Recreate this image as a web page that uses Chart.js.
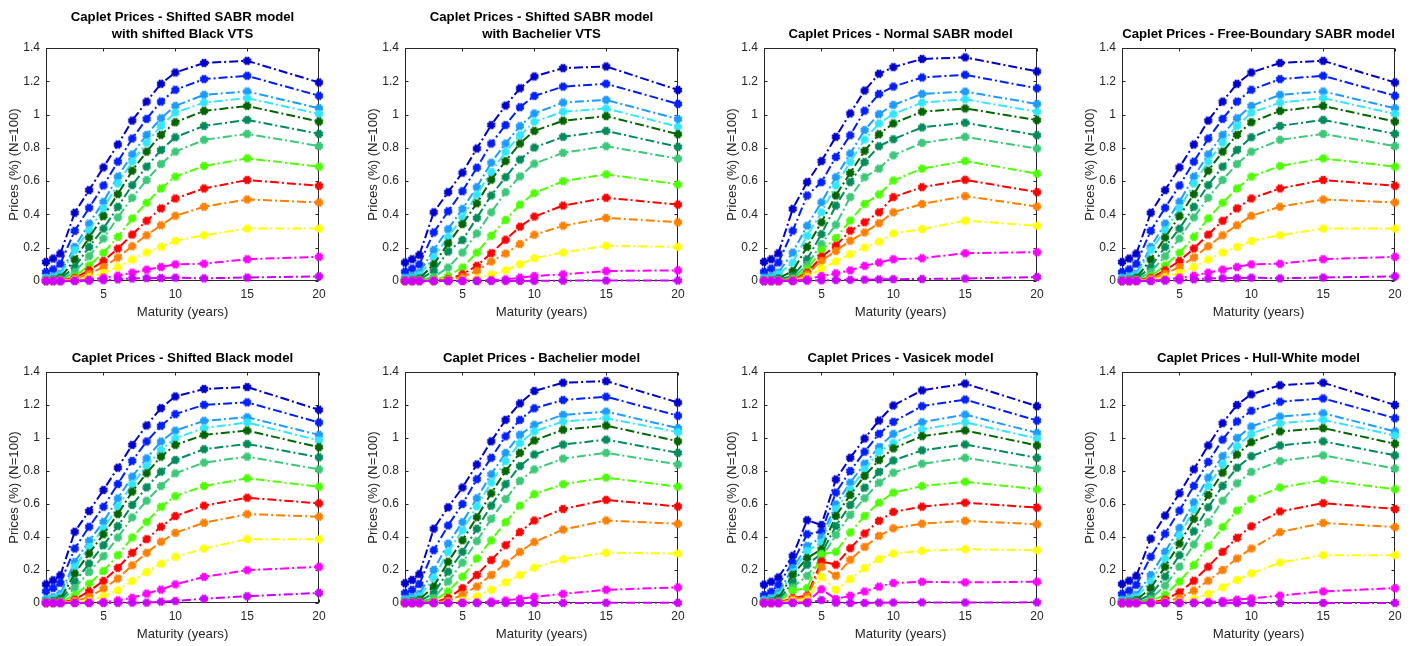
<!DOCTYPE html>
<html>
<head>
<meta charset="utf-8">
<script src="https://cdn.jsdelivr.net/npm/chart.js@4.4.1/dist/chart.umd.min.js"></script>
<style>
  html, body { margin: 0; padding: 0; background: #ffffff; }
  body { width: 1414px; height: 646px; position: relative; overflow: hidden; }
  canvas { position: absolute; }
</style>
</head>
<body>
<script>
// ---------------- DATA ----------------
const maturities = [1, 1.5, 2, 3, 4, 5, 6, 7, 8, 9, 10, 12, 15, 20];
const xTickValues = [5, 10, 15, 20];
const yTickValues = [0, 0.2, 0.4, 0.6, 0.8, 1, 1.2, 1.4];

const panelTitles = [
  ['Caplet Prices - Shifted SABR model', 'with shifted Black VTS'],
  ['Caplet Prices - Shifted SABR model', 'with Bachelier VTS'],
  'Caplet Prices - Normal SABR model',
  'Caplet Prices - Free-Boundary SABR model',
  'Caplet Prices - Shifted Black model',
  'Caplet Prices - Bachelier model',
  'Caplet Prices - Vasicek model',
  'Caplet Prices - Hull-White model'
];

const shiftedSabrBlackVts = [
  [0.114, 0.135, 0.165, 0.410, 0.546, 0.683, 0.820, 0.964, 1.078, 1.185, 1.253, 1.310, 1.323, 1.193],
  [0.054, 0.070, 0.104, 0.301, 0.440, 0.574, 0.717, 0.856, 0.974, 1.078, 1.149, 1.213, 1.233, 1.113],
  [0.020, 0.028, 0.044, 0.205, 0.345, 0.476, 0.627, 0.761, 0.878, 0.978, 1.052, 1.119, 1.139, 1.038],
  [0.015, 0.020, 0.035, 0.185, 0.305, 0.436, 0.586, 0.717, 0.831, 0.932, 1.012, 1.072, 1.099, 1.004],
  [0.005, 0.008, 0.020, 0.129, 0.261, 0.390, 0.522, 0.663, 0.777, 0.878, 0.954, 1.022, 1.052, 0.958],
  [0.003, 0.005, 0.012, 0.084, 0.205, 0.315, 0.446, 0.576, 0.687, 0.787, 0.864, 0.932, 0.968, 0.884],
  [0.002, 0.003, 0.007, 0.054, 0.149, 0.255, 0.382, 0.500, 0.607, 0.703, 0.777, 0.848, 0.884, 0.811],
  [0.001, 0.001, 0.003, 0.028, 0.094, 0.169, 0.265, 0.376, 0.470, 0.556, 0.627, 0.691, 0.737, 0.687],
  [0.000, 0.001, 0.002, 0.018, 0.064, 0.120, 0.195, 0.279, 0.362, 0.436, 0.496, 0.556, 0.607, 0.572],
  [0.000, 0.000, 0.001, 0.012, 0.044, 0.084, 0.141, 0.209, 0.275, 0.335, 0.392, 0.446, 0.490, 0.472],
  [0.000, 0.000, 0.000, 0.006, 0.024, 0.048, 0.084, 0.129, 0.171, 0.205, 0.241, 0.275, 0.315, 0.315],
  [0.000, 0.000, 0.000, 0.002, 0.008, 0.020, 0.032, 0.050, 0.068, 0.084, 0.100, 0.104, 0.131, 0.145],
  [0.000, 0.000, 0.000, 0.000, 0.002, 0.005, 0.010, 0.015, 0.017, 0.018, 0.020, 0.016, 0.021, 0.028]
];

const shiftedSabrBachelierVts = [
  [0.111, 0.131, 0.157, 0.413, 0.534, 0.651, 0.796, 0.937, 1.054, 1.158, 1.229, 1.279, 1.289, 1.148],
  [0.056, 0.075, 0.100, 0.292, 0.419, 0.540, 0.681, 0.826, 0.937, 1.044, 1.112, 1.168, 1.185, 1.064],
  [0.020, 0.030, 0.050, 0.187, 0.312, 0.433, 0.564, 0.711, 0.826, 0.931, 1.007, 1.072, 1.088, 0.973],
  [0.012, 0.018, 0.035, 0.141, 0.266, 0.383, 0.520, 0.655, 0.776, 0.876, 0.957, 1.017, 1.037, 0.927],
  [0.004, 0.007, 0.015, 0.100, 0.226, 0.342, 0.467, 0.608, 0.721, 0.826, 0.902, 0.963, 0.991, 0.882],
  [0.002, 0.003, 0.008, 0.060, 0.177, 0.246, 0.379, 0.514, 0.624, 0.729, 0.802, 0.866, 0.902, 0.806],
  [0.001, 0.002, 0.004, 0.024, 0.081, 0.171, 0.286, 0.413, 0.534, 0.629, 0.705, 0.770, 0.810, 0.735],
  [0.000, 0.001, 0.002, 0.008, 0.030, 0.081, 0.171, 0.272, 0.367, 0.459, 0.528, 0.600, 0.641, 0.580],
  [0.000, 0.000, 0.000, 0.002, 0.010, 0.040, 0.091, 0.167, 0.248, 0.326, 0.387, 0.453, 0.500, 0.459],
  [0.000, 0.000, 0.000, 0.000, 0.004, 0.024, 0.060, 0.117, 0.165, 0.222, 0.278, 0.332, 0.379, 0.353],
  [0.000, 0.000, 0.000, 0.000, 0.001, 0.005, 0.016, 0.040, 0.064, 0.101, 0.137, 0.171, 0.212, 0.205],
  [0.000, 0.000, 0.000, 0.000, 0.000, 0.001, 0.002, 0.005, 0.010, 0.020, 0.030, 0.040, 0.060, 0.064],
  [0.000, 0.000, 0.000, 0.000, 0.000, 0.000, 0.000, 0.000, 0.000, 0.000, 0.001, 0.002, 0.003, 0.003]
];

const normalSabr = [
  [0.115, 0.131, 0.167, 0.433, 0.594, 0.721, 0.866, 1.007, 1.144, 1.245, 1.285, 1.334, 1.344, 1.259],
  [0.056, 0.075, 0.111, 0.302, 0.514, 0.594, 0.745, 0.876, 1.023, 1.124, 1.168, 1.223, 1.239, 1.158],
  [0.020, 0.030, 0.050, 0.171, 0.332, 0.473, 0.624, 0.766, 0.907, 1.003, 1.058, 1.124, 1.138, 1.064],
  [0.012, 0.018, 0.040, 0.111, 0.272, 0.413, 0.574, 0.715, 0.850, 0.947, 1.003, 1.072, 1.092, 1.017],
  [0.004, 0.006, 0.015, 0.060, 0.205, 0.353, 0.514, 0.649, 0.782, 0.882, 0.947, 1.017, 1.037, 0.967],
  [0.002, 0.003, 0.008, 0.030, 0.131, 0.282, 0.453, 0.594, 0.715, 0.810, 0.852, 0.923, 0.951, 0.876],
  [0.001, 0.002, 0.004, 0.016, 0.097, 0.222, 0.338, 0.504, 0.624, 0.675, 0.755, 0.830, 0.866, 0.796],
  [0.000, 0.001, 0.002, 0.010, 0.070, 0.185, 0.258, 0.363, 0.463, 0.520, 0.604, 0.675, 0.721, 0.645],
  [0.000, 0.000, 0.001, 0.006, 0.050, 0.145, 0.212, 0.302, 0.353, 0.413, 0.504, 0.564, 0.608, 0.534],
  [0.000, 0.000, 0.000, 0.004, 0.040, 0.121, 0.181, 0.242, 0.292, 0.347, 0.413, 0.463, 0.510, 0.447],
  [0.000, 0.000, 0.000, 0.002, 0.024, 0.075, 0.117, 0.161, 0.201, 0.236, 0.286, 0.312, 0.363, 0.332],
  [0.000, 0.000, 0.000, 0.001, 0.010, 0.030, 0.046, 0.064, 0.091, 0.111, 0.131, 0.137, 0.167, 0.173],
  [0.000, 0.000, 0.000, 0.000, 0.002, 0.004, 0.006, 0.007, 0.008, 0.010, 0.011, 0.012, 0.015, 0.024]
];

const freeBoundarySabr = [
  [0.114, 0.135, 0.165, 0.410, 0.546, 0.683, 0.820, 0.964, 1.078, 1.185, 1.253, 1.310, 1.323, 1.193],
  [0.054, 0.070, 0.104, 0.301, 0.440, 0.574, 0.717, 0.856, 0.974, 1.078, 1.149, 1.213, 1.233, 1.113],
  [0.020, 0.028, 0.044, 0.205, 0.345, 0.476, 0.627, 0.761, 0.878, 0.978, 1.052, 1.119, 1.139, 1.038],
  [0.015, 0.020, 0.035, 0.185, 0.305, 0.436, 0.586, 0.717, 0.831, 0.932, 1.012, 1.072, 1.099, 1.004],
  [0.005, 0.008, 0.020, 0.129, 0.261, 0.390, 0.522, 0.663, 0.777, 0.878, 0.954, 1.022, 1.052, 0.958],
  [0.003, 0.005, 0.012, 0.084, 0.205, 0.315, 0.446, 0.576, 0.687, 0.787, 0.864, 0.932, 0.968, 0.884],
  [0.002, 0.003, 0.007, 0.054, 0.149, 0.255, 0.382, 0.500, 0.607, 0.703, 0.777, 0.848, 0.884, 0.811],
  [0.001, 0.001, 0.003, 0.028, 0.094, 0.169, 0.265, 0.376, 0.470, 0.556, 0.627, 0.691, 0.737, 0.687],
  [0.000, 0.001, 0.002, 0.018, 0.064, 0.120, 0.195, 0.279, 0.362, 0.436, 0.496, 0.556, 0.607, 0.572],
  [0.000, 0.000, 0.001, 0.012, 0.044, 0.084, 0.141, 0.209, 0.275, 0.335, 0.392, 0.446, 0.490, 0.472],
  [0.000, 0.000, 0.000, 0.006, 0.024, 0.048, 0.084, 0.129, 0.171, 0.205, 0.241, 0.275, 0.315, 0.315],
  [0.000, 0.000, 0.000, 0.002, 0.008, 0.020, 0.032, 0.050, 0.068, 0.084, 0.100, 0.104, 0.131, 0.145],
  [0.000, 0.000, 0.000, 0.000, 0.002, 0.005, 0.010, 0.015, 0.017, 0.018, 0.020, 0.016, 0.021, 0.028]
];

const shiftedBlack = [
  [0.113, 0.138, 0.168, 0.432, 0.557, 0.685, 0.820, 0.958, 1.076, 1.181, 1.252, 1.297, 1.309, 1.171],
  [0.071, 0.091, 0.122, 0.330, 0.462, 0.583, 0.721, 0.861, 0.979, 1.074, 1.145, 1.201, 1.216, 1.094],
  [0.025, 0.035, 0.055, 0.249, 0.377, 0.492, 0.634, 0.766, 0.877, 0.979, 1.045, 1.104, 1.126, 1.019],
  [0.018, 0.025, 0.040, 0.219, 0.340, 0.452, 0.583, 0.721, 0.831, 0.928, 0.999, 1.060, 1.094, 0.985],
  [0.008, 0.012, 0.025, 0.178, 0.300, 0.417, 0.539, 0.675, 0.786, 0.887, 0.958, 1.019, 1.045, 0.944],
  [0.004, 0.006, 0.013, 0.128, 0.239, 0.350, 0.466, 0.594, 0.701, 0.796, 0.867, 0.932, 0.964, 0.883],
  [0.002, 0.003, 0.008, 0.091, 0.188, 0.284, 0.397, 0.519, 0.620, 0.709, 0.786, 0.851, 0.887, 0.810],
  [0.001, 0.002, 0.004, 0.047, 0.117, 0.194, 0.290, 0.397, 0.492, 0.583, 0.648, 0.709, 0.756, 0.705],
  [0.000, 0.001, 0.002, 0.020, 0.071, 0.134, 0.213, 0.304, 0.387, 0.462, 0.527, 0.590, 0.638, 0.604],
  [0.000, 0.000, 0.001, 0.012, 0.036, 0.087, 0.148, 0.229, 0.304, 0.371, 0.425, 0.486, 0.539, 0.523],
  [0.000, 0.000, 0.000, 0.003, 0.012, 0.041, 0.077, 0.134, 0.188, 0.239, 0.280, 0.330, 0.387, 0.387],
  [0.000, 0.000, 0.000, 0.000, 0.002, 0.006, 0.016, 0.032, 0.057, 0.081, 0.113, 0.158, 0.199, 0.219],
  [0.000, 0.000, 0.000, 0.000, 0.000, 0.000, 0.001, 0.002, 0.002, 0.008, 0.012, 0.026, 0.041, 0.061]
];

const bachelier = [
  [0.120, 0.140, 0.175, 0.450, 0.580, 0.700, 0.840, 0.980, 1.110, 1.210, 1.285, 1.335, 1.345, 1.215],
  [0.060, 0.080, 0.115, 0.320, 0.470, 0.600, 0.750, 0.880, 1.010, 1.110, 1.180, 1.230, 1.250, 1.135],
  [0.025, 0.035, 0.055, 0.200, 0.360, 0.490, 0.635, 0.780, 0.910, 1.020, 1.080, 1.140, 1.160, 1.060],
  [0.015, 0.022, 0.040, 0.150, 0.310, 0.440, 0.585, 0.730, 0.860, 0.970, 1.040, 1.100, 1.120, 1.035],
  [0.006, 0.010, 0.020, 0.100, 0.250, 0.380, 0.520, 0.665, 0.800, 0.910, 0.985, 1.050, 1.075, 0.980],
  [0.003, 0.005, 0.010, 0.060, 0.190, 0.310, 0.450, 0.590, 0.720, 0.830, 0.900, 0.960, 0.990, 0.910],
  [0.001, 0.002, 0.005, 0.030, 0.130, 0.245, 0.375, 0.510, 0.630, 0.740, 0.810, 0.875, 0.910, 0.840],
  [0.000, 0.001, 0.002, 0.012, 0.070, 0.160, 0.270, 0.380, 0.490, 0.590, 0.660, 0.720, 0.760, 0.705],
  [0.000, 0.000, 0.001, 0.004, 0.030, 0.090, 0.170, 0.260, 0.350, 0.430, 0.500, 0.570, 0.625, 0.585],
  [0.000, 0.000, 0.000, 0.002, 0.012, 0.050, 0.100, 0.170, 0.240, 0.310, 0.370, 0.445, 0.500, 0.480],
  [0.000, 0.000, 0.000, 0.000, 0.003, 0.015, 0.040, 0.080, 0.125, 0.170, 0.215, 0.265, 0.305, 0.300],
  [0.000, 0.000, 0.000, 0.000, 0.000, 0.001, 0.003, 0.008, 0.015, 0.025, 0.037, 0.055, 0.080, 0.095],
  [0.000, 0.000, 0.000, 0.000, 0.000, 0.000, 0.000, 0.000, 0.000, 0.000, 0.000, 0.000, 0.001, 0.001]
];

const vasicek = [
  [0.111, 0.129, 0.155, 0.286, 0.502, 0.473, 0.749, 0.880, 0.997, 1.106, 1.197, 1.289, 1.330, 1.193],
  [0.048, 0.068, 0.111, 0.246, 0.417, 0.433, 0.669, 0.800, 0.917, 1.025, 1.098, 1.193, 1.233, 1.106],
  [0.020, 0.030, 0.060, 0.212, 0.346, 0.397, 0.598, 0.729, 0.844, 0.945, 1.025, 1.096, 1.142, 1.031],
  [0.015, 0.022, 0.045, 0.185, 0.316, 0.367, 0.568, 0.689, 0.810, 0.917, 0.971, 1.052, 1.096, 0.997],
  [0.005, 0.010, 0.028, 0.171, 0.272, 0.326, 0.528, 0.655, 0.770, 0.866, 0.937, 1.011, 1.046, 0.955],
  [0.003, 0.005, 0.015, 0.125, 0.232, 0.300, 0.467, 0.594, 0.699, 0.794, 0.864, 0.925, 0.961, 0.880],
  [0.002, 0.003, 0.009, 0.095, 0.165, 0.272, 0.413, 0.534, 0.635, 0.729, 0.790, 0.844, 0.880, 0.814],
  [0.001, 0.002, 0.004, 0.075, 0.091, 0.296, 0.310, 0.427, 0.528, 0.608, 0.669, 0.709, 0.735, 0.689],
  [0.000, 0.000, 0.002, 0.030, 0.045, 0.252, 0.232, 0.332, 0.421, 0.498, 0.552, 0.584, 0.608, 0.578],
  [0.000, 0.000, 0.001, 0.022, 0.038, 0.220, 0.165, 0.262, 0.340, 0.407, 0.453, 0.481, 0.498, 0.477],
  [0.000, 0.000, 0.000, 0.014, 0.018, 0.159, 0.079, 0.145, 0.212, 0.266, 0.300, 0.316, 0.326, 0.320],
  [0.000, 0.000, 0.000, 0.003, 0.004, 0.083, 0.024, 0.044, 0.070, 0.099, 0.121, 0.129, 0.125, 0.129],
  [0.000, 0.000, 0.000, 0.000, 0.000, 0.018, 0.002, 0.000, 0.000, 0.002, 0.003, 0.004, 0.003, 0.004]
];

const hullWhite = [
  [0.115, 0.135, 0.165, 0.390, 0.530, 0.665, 0.810, 0.955, 1.090, 1.200, 1.265, 1.320, 1.335, 1.200],
  [0.055, 0.075, 0.110, 0.280, 0.420, 0.560, 0.710, 0.855, 0.990, 1.100, 1.165, 1.220, 1.240, 1.120],
  [0.020, 0.030, 0.050, 0.170, 0.310, 0.455, 0.610, 0.760, 0.890, 1.000, 1.070, 1.130, 1.150, 1.040],
  [0.012, 0.020, 0.035, 0.130, 0.270, 0.410, 0.565, 0.710, 0.840, 0.950, 1.025, 1.090, 1.110, 1.015],
  [0.005, 0.008, 0.018, 0.090, 0.220, 0.360, 0.510, 0.655, 0.790, 0.900, 0.975, 1.040, 1.060, 0.965],
  [0.002, 0.004, 0.010, 0.050, 0.160, 0.290, 0.435, 0.580, 0.710, 0.820, 0.890, 0.955, 0.980, 0.895],
  [0.001, 0.002, 0.005, 0.025, 0.105, 0.220, 0.355, 0.490, 0.620, 0.725, 0.795, 0.860, 0.895, 0.815],
  [0.000, 0.000, 0.002, 0.010, 0.050, 0.130, 0.230, 0.345, 0.460, 0.560, 0.630, 0.700, 0.745, 0.690],
  [0.000, 0.000, 0.001, 0.003, 0.020, 0.065, 0.135, 0.220, 0.310, 0.395, 0.465, 0.555, 0.605, 0.570],
  [0.000, 0.000, 0.000, 0.001, 0.008, 0.030, 0.075, 0.135, 0.200, 0.270, 0.330, 0.430, 0.485, 0.460],
  [0.000, 0.000, 0.000, 0.000, 0.002, 0.008, 0.025, 0.055, 0.095, 0.140, 0.180, 0.245, 0.290, 0.290],
  [0.000, 0.000, 0.000, 0.000, 0.000, 0.001, 0.002, 0.006, 0.012, 0.020, 0.028, 0.045, 0.070, 0.090],
  [0.000, 0.000, 0.000, 0.000, 0.000, 0.000, 0.000, 0.000, 0.000, 0.000, 0.000, 0.000, 0.000, 0.000]
];

const panelData = [shiftedSabrBlackVts, shiftedSabrBachelierVts, normalSabr, freeBoundarySabr,
                   shiftedBlack, bachelier, vasicek, hullWhite];

// ---------------- STYLE ----------------
const seriesColors = ['#0000CC', '#0020FF', '#1E9BFF', '#33E6FF', '#006600', '#008C5A', '#3CC878',
                      '#4DFF00', '#FF0000', '#FF8000', '#FFFF00', '#FF00FF', '#CC00FF'];
const plotLefts = [46, 405, 764, 1122];
const plotTops = [48, 372];
const plotHeights = [233, 231];
const plotWidth = 273;
const axisColor = '#262626';

function makeMarker(color) {
  const s = 12, c = document.createElement('canvas');
  c.width = s; c.height = s;
  const g = c.getContext('2d');
  g.fillStyle = color; g.strokeStyle = color;
  g.beginPath(); g.arc(s / 2, s / 2, 3.5, 0, Math.PI * 2); g.fill();
  g.lineWidth = 1.8; g.lineCap = 'butt';
  for (let k = 0; k < 4; k++) {
    const a = k * Math.PI / 4 + Math.PI / 8, r = 4.4;
    g.beginPath();
    g.moveTo(s / 2 - r * Math.cos(a), s / 2 - r * Math.sin(a));
    g.lineTo(s / 2 + r * Math.cos(a), s / 2 + r * Math.sin(a));
    g.stroke();
  }
  return c;
}
const markers = seriesColors.map(makeMarker);

const framePlugin = {
  id: 'matlabFrame',
  beforeDatasetsDraw(chart) {
    const { ctx, chartArea: a, scales } = chart;
    const L = Math.round(a.left) + 0.5, R = Math.round(a.right) - 0.5;
    const T = Math.round(a.top) + 0.5, B = Math.round(a.bottom) - 0.5;
    ctx.save();
    ctx.strokeStyle = axisColor; ctx.lineWidth = 1;
    ctx.strokeRect(L, T, R - L, B - T);
    ctx.beginPath();
    const tl = 3;
    for (const v of xTickValues) {
      const px = Math.round(scales.x.getPixelForValue(v)) + 0.5;
      ctx.moveTo(px, B); ctx.lineTo(px, B - tl);
      ctx.moveTo(px, T); ctx.lineTo(px, T + tl);
    }
    for (const v of yTickValues) {
      const py = Math.round(scales.y.getPixelForValue(v)) + 0.5;
      ctx.moveTo(L, py); ctx.lineTo(L + tl, py);
      ctx.moveTo(R, py); ctx.lineTo(R - tl, py);
    }
    ctx.stroke();
    ctx.restore();
  }
};

const FONT = '"Liberation Sans", Arial, Helvetica, sans-serif';

panelData.forEach((series, p) => {
  const row = Math.floor(p / 4), col = p % 4;
  const padRight = 14, yAxisW = 46, titleH = 48, xAxisH = 45;
  const w = yAxisW + plotWidth + padRight;
  const h = titleH + plotHeights[row] + xAxisH;
  const cv = document.createElement('canvas');
  cv.width = w; cv.height = h;
  cv.style.left = (plotLefts[col] - yAxisW) + 'px';
  cv.style.top = (plotTops[row] - titleH) + 'px';
  cv.style.width = w + 'px'; cv.style.height = h + 'px';
  document.body.appendChild(cv);

  const title = panelTitles[p];
  const twoLines = Array.isArray(title);
  const lh = 16.7;
  const titlePad = twoLines ? { top: 8.9, bottom: titleH - 8.9 - 2 * lh }
                            : { top: 25.6, bottom: titleH - 25.6 - lh };

  const datasets = series.map((vals, i) => ({
    data: maturities.map((m, j) => ({ x: m, y: vals[j] })),
    borderColor: seriesColors[i],
    backgroundColor: seriesColors[i],
    borderWidth: 2,
    borderDash: [9, 3, 2, 3],
    pointStyle: markers[i],
    pointRadius: 4,
    pointHoverRadius: 4,
    tension: 0,
    clip: 10,
    order: series.length - i
  }));

  new Chart(cv, {
    type: 'line',
    data: { datasets },
    plugins: [framePlugin],
    options: {
      responsive: false,
      animation: false,
      devicePixelRatio: 1,
      layout: { padding: { left: 0, right: padRight, top: 0, bottom: 0 } },
      plugins: {
        legend: { display: false },
        tooltip: { enabled: false },
        title: {
          display: true,
          text: title,
          fullSize: false,
          color: '#000000',
          font: { family: FONT, size: 13.2, weight: 'bold', lineHeight: lh / 13.2 },
          padding: titlePad
        }
      },
      scales: {
        x: {
          type: 'linear',
          min: 1, max: 20,
          afterBuildTicks: (s) => { s.ticks = xTickValues.map(v => ({ value: v })); },
          afterFit: (s) => { s.height = xAxisH; },
          grid: { display: false, drawTicks: false, tickLength: 0 },
          border: { display: false },
          ticks: { color: axisColor, font: { family: FONT, size: 12 }, padding: 6.4, maxRotation: 0,
                   callback: (v) => String(v) },
          title: { display: true, text: 'Maturity (years)', color: axisColor,
                   font: { family: FONT, size: 13.2 }, padding: { top: 0, bottom: 5.6 } }
        },
        y: {
          type: 'linear',
          min: 0, max: 1.4,
          afterBuildTicks: (s) => { s.ticks = yTickValues.map(v => ({ value: v })); },
          afterFit: (s) => { s.width = yAxisW; },
          grid: { display: false, drawTicks: false, tickLength: 0 },
          border: { display: false },
          ticks: { color: axisColor, font: { family: FONT, size: 12 }, padding: 6,
                   callback: (v) => String(Math.round(v * 10) / 10) },
          title: { display: true, text: 'Prices (%) (N=100)', color: axisColor,
                   font: { family: FONT, size: 13.2 }, padding: { top: 6, bottom: 0 } }
        }
      }
    }
  });
});
</script>
</body>
</html>
